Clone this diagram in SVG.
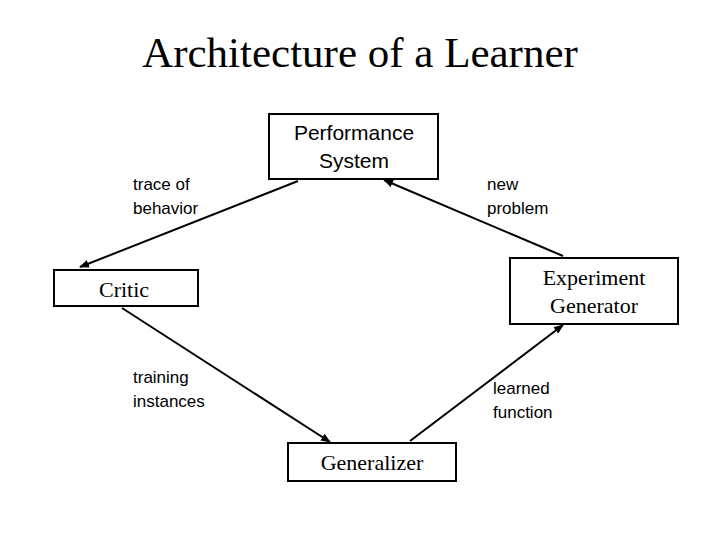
<svg xmlns="http://www.w3.org/2000/svg" width="720" height="540" viewBox="0 0 720 540">
<style>
.box{fill:#fff;stroke:#000;stroke-width:2}
.serif{font-family:"Liberation Serif",serif;font-size:22px}
.sans{font-family:"Liberation Sans",sans-serif;font-size:21px}
.lbl{font-family:"Liberation Sans",sans-serif;font-size:17px}
.c{stroke:#000;stroke-width:2;fill:none;marker-end:url(#a)}
</style>
<defs><marker id="a" markerWidth="10" markerHeight="8" refX="9" refY="4" orient="auto" markerUnits="userSpaceOnUse"><path d="M0,0 L10,4 L0,8 z" fill="#000"/></marker></defs>
<rect width="720" height="540" fill="#fff"/>
<text x="360" y="67" text-anchor="middle" font-family="Liberation Serif,serif" font-size="43">Architecture of a Learner</text>
<g id="connectors">
<line class="c" x1="298" y1="181" x2="80" y2="267"/>
<line class="c" x1="563" y1="256" x2="384" y2="180"/>
<line class="c" x1="122" y1="308" x2="330" y2="442"/>
<line class="c" x1="410" y1="441" x2="563" y2="325"/>
<text class="lbl" x="133" y="190">trace of</text><text class="lbl" x="133" y="214">behavior</text>
<text class="lbl" x="487" y="190">new</text><text class="lbl" x="487" y="214">problem</text>
<text class="lbl" x="133" y="383">training</text><text class="lbl" x="133" y="407">instances</text>
<text class="lbl" x="493" y="394">learned</text><text class="lbl" x="493" y="418">function</text>
</g>
<g id="performance"><rect class="box" x="269" y="114" width="169" height="65"/>
<text class="sans" x="354" y="140" text-anchor="middle">Performance</text><text class="sans" x="354" y="168" text-anchor="middle">System</text></g>
<g id="critic"><rect class="box" x="54" y="270" width="144" height="36"/>
<text class="serif" x="99" y="297">Critic</text></g>
<g id="experiment"><rect class="box" x="510" y="258" width="168" height="66"/>
<text class="serif" x="594" y="285" text-anchor="middle">Experiment</text><text class="serif" x="594" y="313" text-anchor="middle">Generator</text></g>
<g id="generalizer"><rect class="box" x="288" y="443" width="168" height="38"/>
<text class="serif" x="372" y="470" text-anchor="middle">Generalizer</text></g>
</svg>
